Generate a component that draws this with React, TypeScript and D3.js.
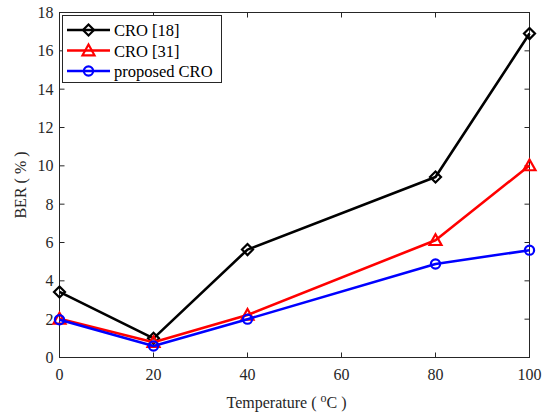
import React from "react";
import * as d3 from "d3";

const temperatures = [0, 20, 40, 80, 100];
const cro18 = [3.42, 1.0, 5.63, 9.42, 16.9];
const cro31 = [2.02, 0.8, 2.22, 6.12, 10.02];
const proposed = [1.97, 0.6, 2.0, 4.88, 5.6];
const xTicks = [0, 20, 40, 60, 80, 100];
const yTicks = [0, 2, 4, 6, 8, 10, 12, 14, 16, 18];
const seriesNames = ["CRO [18]", "CRO [31]", "proposed CRO"];

const W = 549, H = 414;
const L = 59.5, R = 529.5, T = 12.5, B = 357.5;
const AX = "#262626";
const FONT = "Liberation Serif, DejaVu Serif, serif";

function Marker({ kind, x, y, color }: { kind: string; x: number; y: number; color: string }) {
  if (kind === "diamond") {
    const s = 5.5;
    return <path d={`M${x},${y - s}L${x + s},${y}L${x},${y + s}L${x - s},${y}Z`} fill="none" stroke={color} strokeWidth={2.2} />;
  }
  if (kind === "triangle") {
    const s = 6;
    return <path d={`M${x},${y - s}L${x + s},${y + s * 0.8}L${x - s},${y + s * 0.8}Z`} fill="none" stroke={color} strokeWidth={2.2} />;
  }
  return <circle cx={x} cy={y} r={4.6} fill="none" stroke={color} strokeWidth={2.2} />;
}

export default function App() {
  const x = d3.scaleLinear().domain([0, 100]).range([L, R]);
  const y = d3.scaleLinear().domain([0, 18]).range([B, T]);
  const series = [
    { name: seriesNames[0], values: cro18, color: "#000000", kind: "diamond" },
    { name: seriesNames[1], values: cro31, color: "#ff0000", kind: "triangle" },
    { name: seriesNames[2], values: proposed, color: "#0000ff", kind: "circle" },
  ];
  const line = d3.line<number>().x((_, i) => x(temperatures[i])).y((d) => y(d));
  const legendRows = [30, 50.5, 71];

  return (
    <svg width={W} height={H} style={{ position: "absolute", left: 0, top: 0, background: "#fff", fontFamily: FONT }}>
      <rect x={0} y={0} width={W} height={H} fill="#fff" />
      {xTicks.map((t) => (
        <g key={"x" + t}>
          <line x1={x(t)} x2={x(t)} y1={B} y2={B - 5} stroke={AX} />
          <line x1={x(t)} x2={x(t)} y1={T} y2={T + 5} stroke={AX} />
          <text x={x(t)} y={380} textAnchor="middle" fontSize={16} fill={AX}>{t}</text>
        </g>
      ))}
      {yTicks.map((t) => (
        <g key={"y" + t}>
          <line x1={L} x2={L + 5} y1={y(t)} y2={y(t)} stroke={AX} />
          <line x1={R} x2={R - 5} y1={y(t)} y2={y(t)} stroke={AX} />
          <text x={L - 6} y={y(t) + 5.5} textAnchor="end" fontSize={16} fill={AX}>{t}</text>
        </g>
      ))}
      <rect x={L} y={T} width={R - L} height={B - T} fill="none" stroke={AX} strokeWidth={1} />
      {series.map((s) => (
        <g key={s.name}>
          <path d={line(s.values) || ""} fill="none" stroke={s.color} strokeWidth={2.6} strokeLinejoin="round" />
          {s.values.map((v, i) => (
            <Marker key={i} kind={s.kind} x={x(temperatures[i])} y={y(v)} color={s.color} />
          ))}
        </g>
      ))}
      <text x={(L + R) / 2 - 8} y={408} textAnchor="middle" fontSize={16} fill={AX}>
        Temperature (  <tspan dy={-6} fontSize={12}>o</tspan><tspan dy={6}>C )</tspan>
      </text>
      <text transform={`translate(26,${(T + B) / 2}) rotate(-90)`} textAnchor="middle" fontSize={16} fill={AX}>
        BER ( % )
      </text>
      <rect x={62.5} y={15.5} width={159} height={67} fill="#fff" stroke={AX} strokeWidth={1} />
      {series.map((s, i) => (
        <g key={"lg" + s.name}>
          <line x1={67} x2={110} y1={legendRows[i]} y2={legendRows[i]} stroke={s.color} strokeWidth={2.6} />
          <Marker kind={s.kind} x={88.5} y={legendRows[i]} color={s.color} />
          <text x={114} y={legendRows[i] + 6} fontSize={16.5} fill="#000">{s.name}</text>
        </g>
      ))}
    </svg>
  );
}
